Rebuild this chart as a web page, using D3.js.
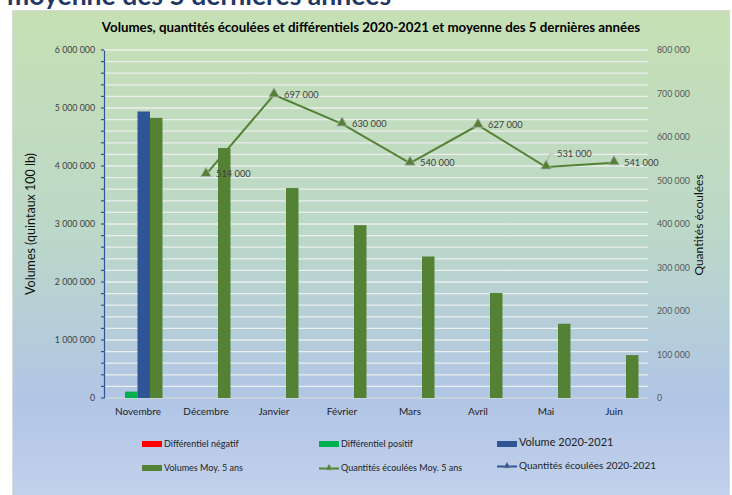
<!DOCTYPE html>
<html><head><meta charset="utf-8">
<script src="https://cdn.jsdelivr.net/npm/d3@7"></script>
<style>body{margin:0;background:#fff;}svg{display:block;font-family:Lato,"Open Sans",sans-serif;}</style>
</head><body><svg id="c" width="732" height="495"></svg>
<script>
const categories = ["Novembre","Décembre","Janvier","Février","Mars","Avril","Mai","Juin"];
const diffNegatif = [0,0,0,0,0,0,0,0];
const diffPositif = [110000,0,0,0,0,0,0,0];
const volume2021 = [4940000,0,0,0,0,0,0,0];
const volumesMoy5 = [4830000,4310000,3620000,2980000,2440000,1810000,1280000,740000];
const qteMoy5 = [null,514000,697000,630000,540000,627000,531000,541000];
const qte2021 = [null,null,null,null,null,null,null,null];
const leftTicks = [0,1000000,2000000,3000000,4000000,5000000,6000000];
const rightTicks = [0,100000,200000,300000,400000,500000,600000,700000,800000];
const seriesNames = ["Différentiel négatif","Différentiel positif","Volume 2020-2021","Volumes Moy. 5 ans"];
const seriesColors = ["#ff0000","#00b050","#2f5597","#548235"];
const lineColor = "#548235";

const svg = d3.select("#c");
const loc = d3.formatLocale({decimal:",",thousands:" ",grouping:[3],currency:["",""]});
const fmt = loc.format(",d");

// gradient
const defs = svg.append("defs");
const g = defs.append("linearGradient").attr("id","bg").attr("x1",0).attr("y1",0).attr("x2",0).attr("y2",1);
g.append("stop").attr("offset","0%").attr("stop-color","#c6e0b4");
g.append("stop").attr("offset","45%").attr("stop-color","#bcd8c8");
g.append("stop").attr("offset","80%").attr("stop-color","#b1c5e6");
g.append("stop").attr("offset","100%").attr("stop-color","#c3d2ec");

// page title (cut off at top, as in the source)
svg.append("text").attr("x",7).attr("y",5).attr("font-size",26.5).attr("font-weight","bold")
  .attr("fill","#1f3864").text("moyenne des 5 dernières années");

svg.append("rect").attr("x",12.5).attr("y",10.5).attr("width",717).attr("height",490)
  .attr("fill","url(#bg)").attr("stroke","#d9d9d9");

svg.append("text").attr("x",371).attr("y",32).attr("text-anchor","middle").attr("font-size",13.3)
  .attr("font-weight","bold").attr("fill","#000")
  .text("Volumes, quantités écoulées et différentiels 2020-2021 et moyenne des 5 dernières années");

const L=104,R=648,T=50,B=398;
const x = d3.scaleBand().domain(categories).range([L,R]).paddingInner(0.265).paddingOuter(0.1325);
const xs = d3.scaleBand().domain(seriesNames).range([0,x.bandwidth()]);
const yL = d3.scaleLinear().domain([0,6000000]).range([B,T]);
const yR = d3.scaleLinear().domain([0,800000]).range([B,T]);

// gridlines
const minor = d3.range(0,6000001,200000);
svg.append("g").selectAll("line").data(minor.filter(v=>v>0)).join("line")
  .attr("x1",L).attr("x2",R).attr("y1",d=>yL(d)).attr("y2",d=>yL(d))
  .attr("stroke","#eceeee").attr("stroke-width",1.3);
svg.append("line").attr("x1",L).attr("x2",R).attr("y1",B).attr("y2",B).attr("stroke","#d0d4d8").attr("stroke-width",1.3);

// bars
const barData = [diffNegatif,diffPositif,volume2021,volumesMoy5];
barData.forEach((arr,si)=>{
  svg.append("g").selectAll("rect").data(arr.map((v,i)=>({v,c:categories[i]})).filter(d=>d.v>0)).join("rect")
    .attr("x",d=>x(d.c)+xs(seriesNames[si])-0.5).attr("width",xs.bandwidth())
    .attr("y",d=>yL(d.v)).attr("height",d=>B-yL(d.v)).attr("fill",seriesColors[si]);
});

// left axis
const ax = svg.append("g").attr("transform",`translate(${L},0)`)
  .call(d3.axisLeft(yL).tickValues(leftTicks).tickFormat(fmt).tickSize(0).tickPadding(9));
ax.select(".domain").attr("stroke","#2f5597").attr("stroke-width",1.2);
ax.selectAll("text").attr("font-size",8.8).attr("fill","#404040").attr("font-family","Lato,sans-serif");
svg.append("g").selectAll("line").data(minor).join("line")
  .attr("x1",L-3).attr("x2",L).attr("y1",d=>yL(d)).attr("y2",d=>yL(d)).attr("stroke","#2f5597").attr("stroke-width",1.2);

// right axis
const ar = svg.append("g").attr("transform",`translate(${R},0)`)
  .call(d3.axisRight(yR).tickValues(rightTicks).tickFormat(fmt).tickSize(0).tickPadding(9));
ar.select(".domain").remove();
ar.selectAll("text").attr("font-size",8.8).attr("fill","#595959").attr("font-family","Lato,sans-serif");

// x axis labels
const axx = svg.append("g").attr("transform",`translate(0,${B})`)
  .call(d3.axisBottom(x).tickSize(0).tickPadding(10));
axx.select(".domain").remove();
axx.selectAll("text").attr("font-size",10).attr("fill","#222").attr("font-family","Lato,sans-serif");

// axis titles
svg.append("text").attr("transform","translate(35,224) rotate(-90)").attr("text-anchor","middle")
  .attr("font-size",12.5).attr("fill","#111").text("Volumes (quintaux 100 lb)");
svg.append("text").attr("transform","translate(703,225) rotate(-90)").attr("text-anchor","middle")
  .attr("font-size",12).attr("fill","#111").text("Quantités écoulées");

// line
const cx = c=>x(c)+x.bandwidth()/2;
const pts = qteMoy5.map((v,i)=>({v,c:categories[i]})).filter(d=>d.v!=null);
svg.append("path").datum(pts).attr("fill","none").attr("stroke",lineColor).attr("stroke-width",2)
  .attr("d",d3.line().x(d=>cx(d.c)).y(d=>yR(d.v)));
const tri = d3.symbol().type(d3.symbolTriangle).size(48);
svg.append("g").selectAll("path").data(pts).join("path")
  .attr("transform",d=>`translate(${cx(d.c)},${yR(d.v)-1})`).attr("d",tri)
  .attr("fill",lineColor).attr("stroke","#b0b0b0").attr("stroke-width",0.8);
svg.append("g").selectAll("text").data(pts).join("text")
  .attr("x",d=>cx(d.c)+(d.c==="Mai"?11:10)).attr("y",d=>yR(d.v)+(d.c==="Mai"?-10:3))
  .attr("font-size",9.3).attr("fill","#404040").text(d=>fmt(d.v));
// leader line for Mai
const mai = pts.find(d=>d.c==="Mai");
svg.append("path").attr("d",`M${cx(mai.c)+1},${yR(mai.v)-5} L${cx(mai.c)+4},${yR(mai.v)-13} L${cx(mai.c)+8},${yR(mai.v)-13}`)
  .attr("fill","none").attr("stroke","#a6a6a6").attr("stroke-width",0.8);

const pts21 = qte2021.map((v,i)=>({v,c:categories[i]})).filter(d=>d.v!=null);
if(pts21.length){
  svg.append("path").datum(pts21).attr("fill","none").attr("stroke","#2f5597").attr("stroke-width",2)
    .attr("d",d3.line().x(d=>cx(d.c)).y(d=>yR(d.v)));
}

// legend
const leg = [
  {t:"Différentiel négatif",type:"rect",c:seriesColors[0],x:142,y:444,fs:9},
  {t:"Différentiel positif",type:"rect",c:seriesColors[1],x:319,y:444,fs:9},
  {t:"Volume 2020-2021",type:"rect",c:seriesColors[2],x:497,y:444,fs:11},
  {t:"Volumes Moy. 5 ans",type:"rect",c:seriesColors[3],x:142,y:468,fs:9},
  {t:"Quantités écoulées Moy. 5 ans",type:"line",c:lineColor,x:319,y:468,fs:9},
  {t:"Quantités écoulées 2020-2021",type:"line",c:"#2f5597",x:497,y:466,fs:10}
];
leg.forEach(d=>{
  const gg = svg.append("g");
  if(d.type==="rect"){
    gg.append("rect").attr("x",d.x).attr("y",d.y-3).attr("width",20).attr("height",6).attr("fill",d.c);
  } else {
    gg.append("line").attr("x1",d.x).attr("x2",d.x+20).attr("y1",d.y+0.5).attr("y2",d.y+0.5).attr("stroke",d.c).attr("stroke-width",2);
    gg.append("path").attr("transform",`translate(${d.x+10},${d.y})`).attr("d",d3.symbol().type(d3.symbolTriangle).size(22))
      .attr("fill",d.c).attr("stroke","#b0b0b0").attr("stroke-width",0.5);
  }
  gg.append("text").attr("x",d.x+22).attr("y",d.y+(d.fs>10?1:3)).attr("font-size",d.fs).attr("fill","#222")
    .attr("dy",d.fs>10?"0.1em":"0").text(d.t);
});
</script></body></html>
